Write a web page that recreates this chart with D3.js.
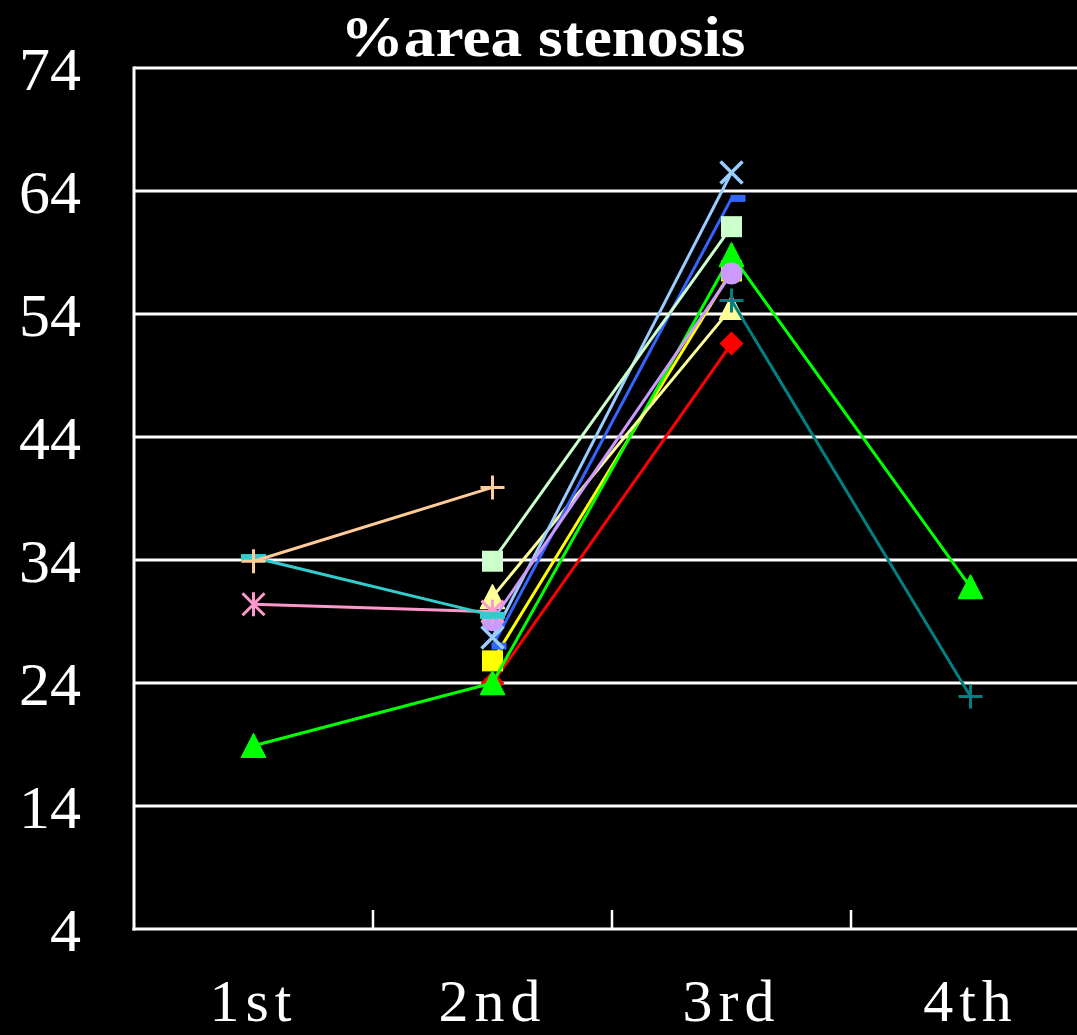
<!DOCTYPE html>
<html>
<head>
<meta charset="utf-8">
<script src="https://cdn.jsdelivr.net/npm/d3@7"></script>
<style>
  html, body { margin: 0; padding: 0; background: #000; }
  svg { display: block; }
</style>
</head>
<body>
<svg id="chart" width="1077" height="1035"></svg>
<script>
// Measurement visits along the x axis
const visits = ["1st", "2nd", "3rd", "4th"];

// Y axis tick values (% area stenosis)
const yTicks = [4, 14, 24, 34, 44, 54, 64, 74];

// One array per lesion; null where no measurement was made
const redDiamond      = [null, 24.0, 51.6, null];
const yellowSquare    = [null, 25.8, 57.5, null];
const greenTriangle   = [18.9, 24.0, 58.8, 31.8];
const paleYellowTri   = [null, 31.0, 54.5, null];
const blueDash        = [null, 27.0, 63.4, null];
const skyBlueX        = [null, 27.7, 65.5, null];
const lavenderCircle  = [null, 29.1, 57.3, null];
const pinkAsterisk    = [30.4, 29.8, null, null];
const cyanDash        = [34.2, 29.5, null, null];
const peachPlus       = [33.9, 39.9, null, null];
const mintSquare      = [null, 33.9, 61.1, null];
const tealPlus        = [null, null, 55.1, 22.9];

const series = [
  { values: redDiamond,     color: "#ff0000", marker: "diamond" },
  { values: yellowSquare,   color: "#ffff00", marker: "square" },
  { values: greenTriangle,  color: "#00ff00", marker: "triangle" },
  { values: paleYellowTri,  color: "#ffff99", marker: "triangle" },
  { values: blueDash,       color: "#3366ff", marker: "shortdash" },
  { values: skyBlueX,       color: "#99ccff", marker: "x" },
  { values: lavenderCircle, color: "#cc99ff", marker: "circle" },
  { values: pinkAsterisk,   color: "#ff99cc", marker: "asterisk" },
  { values: cyanDash,       color: "#33cccc", marker: "dash" },
  { values: peachPlus,      color: "#ffcc99", marker: "plus" },
  { values: mintSquare,     color: "#ccffcc", marker: "square" },
  { values: tealPlus,       color: "#008080", marker: "plus" }
];

const svg = d3.select("#chart");
const plot = { left: 134, top: 68, bottom: 929, band: 239 };

const x = d3.scaleBand()
  .domain(visits)
  .range([plot.left, plot.left + plot.band * visits.length])
  .paddingInner(0).paddingOuter(0);

const y = d3.scaleLinear().domain([4, 74]).range([plot.bottom, plot.top]);

const cx = v => x(v) + x.bandwidth() / 2;

// Horizontal gridlines
svg.append("g")
  .selectAll("line")
  .data(yTicks.filter(t => t !== 4))
  .join("line")
  .attr("x1", plot.left).attr("x2", 1077)
  .attr("y1", d => y(d)).attr("y2", d => y(d))
  .attr("stroke", "#fff").attr("stroke-width", 3);

// Y axis line and labels
svg.append("line")
  .attr("x1", plot.left).attr("x2", plot.left)
  .attr("y1", plot.top - 1.5).attr("y2", plot.bottom + 1.5)
  .attr("stroke", "#fff").attr("stroke-width", 3);

svg.append("g")
  .selectAll("text")
  .data(yTicks)
  .join("text")
  .attr("x", 81)
  .attr("y", d => y(d))
  .attr("dy", "0.35em")
  .attr("text-anchor", "end")
  .attr("fill", "#fff")
  .attr("font-family", "'Liberation Serif', 'DejaVu Serif', serif")
  .attr("font-size", 62)
  .text(d => d);

// X axis line with upward ticks at band boundaries
svg.append("line")
  .attr("x1", plot.left - 1.5).attr("x2", 1077)
  .attr("y1", plot.bottom).attr("y2", plot.bottom)
  .attr("stroke", "#fff").attr("stroke-width", 3);

svg.append("g")
  .selectAll("line")
  .data(visits.slice(1))
  .join("line")
  .attr("x1", d => x(d)).attr("x2", d => x(d))
  .attr("y1", plot.bottom).attr("y2", plot.bottom - 19)
  .attr("stroke", "#fff").attr("stroke-width", 2.5);

svg.append("g")
  .selectAll("text")
  .data(visits)
  .join("text")
  .attr("x", d => cx(d))
  .attr("y", 1021)
  .attr("text-anchor", "middle")
  .attr("fill", "#fff")
  .attr("font-family", "'Liberation Serif', 'DejaVu Serif', serif")
  .attr("font-size", 60)
  .attr("letter-spacing", 6)
  .text(d => d);

// Title
svg.append("text")
  .attr("x", 543)
  .attr("y", 56)
  .attr("text-anchor", "middle")
  .attr("fill", "#fff")
  .attr("font-family", "'Liberation Serif', 'DejaVu Serif', serif")
  .attr("font-weight", "bold")
  .attr("font-size", 58)
  .attr("textLength", 405)
  .attr("lengthAdjust", "spacingAndGlyphs")
  .text("%area stenosis");

// Marker drawing
function drawMarker(g, type, color) {
  switch (type) {
    case "diamond":
      g.append("path").attr("d", "M0,-12L12,0L0,12L-12,0Z").attr("fill", color);
      break;
    case "square":
      g.append("rect").attr("x", -10.5).attr("y", -10.5).attr("width", 21).attr("height", 21).attr("fill", color);
      break;
    case "triangle":
      g.append("path").attr("d", "M0,-12L12,11.5L-12,11.5Z").attr("fill", color)
        .attr("stroke", color).attr("stroke-width", 1.5).attr("stroke-linejoin", "round");
      break;
    case "circle":
      g.append("circle").attr("r", 11).attr("fill", color);
      break;
    case "x":
      g.append("path").attr("d", "M-11,-11L11,11M11,-11L-11,11")
        .attr("stroke", color).attr("stroke-width", 3.5).attr("fill", "none");
      break;
    case "plus":
      g.append("path").attr("d", "M-12,0L12,0M0,-12L0,12")
        .attr("stroke", color).attr("stroke-width", 3).attr("fill", "none");
      break;
    case "asterisk":
      g.append("path").attr("d", "M-11,-11L11,11M11,-11L-11,11M0,-12L0,12")
        .attr("stroke", color).attr("stroke-width", 3).attr("fill", "none");
      break;
    case "dash":
      g.append("rect").attr("x", -12.5).attr("y", -3.5).attr("width", 25).attr("height", 7).attr("fill", color);
      break;
    case "shortdash":
      g.append("rect").attr("x", -1).attr("y", -3.5).attr("width", 15).attr("height", 7).attr("fill", color);
      break;
  }
}

const line = d3.line()
  .defined(d => d.v != null)
  .x(d => cx(d.c))
  .y(d => y(d.v));

const layer = svg.append("g");
series.forEach(s => {
  const pts = visits.map((c, i) => ({ c, v: s.values[i] }));
  const g = layer.append("g");
  g.append("path")
    .datum(pts)
    .attr("d", line)
    .attr("fill", "none")
    .attr("stroke", s.color)
    .attr("stroke-width", 3)
    .attr("stroke-linejoin", "round");
  pts.filter(p => p.v != null).forEach(p => {
    const m = g.append("g").attr("transform", `translate(${cx(p.c)},${y(p.v)})`);
    drawMarker(m, s.marker, s.color);
  });
});
</script>
</body>
</html>
